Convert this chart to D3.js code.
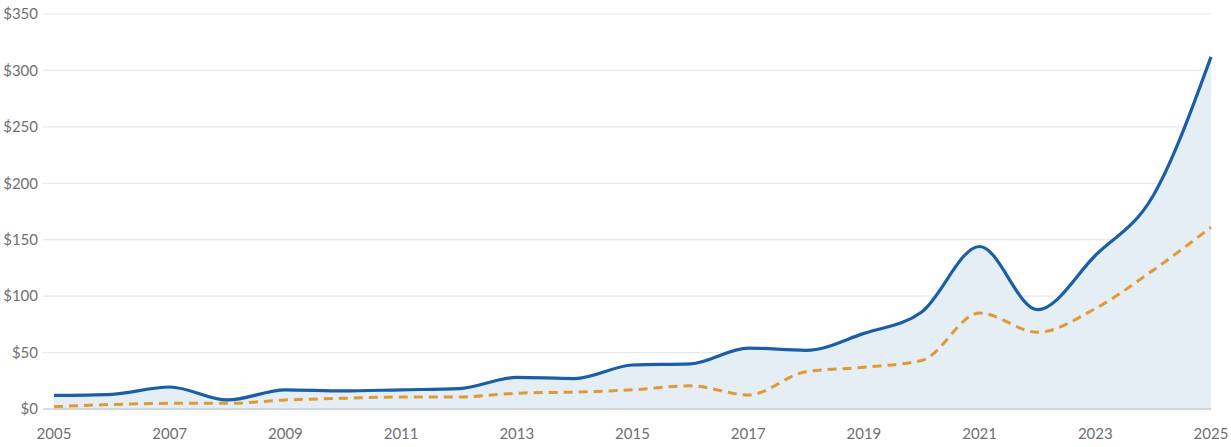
<!DOCTYPE html>
<html><head><meta charset="utf-8">
<script src="https://cdn.jsdelivr.net/npm/d3@7"></script>
<style>body{margin:0;background:#fff}svg{display:block}text{font-family:"Source Sans Pro",Lato,"Open Sans",sans-serif}</style>
</head><body><svg id="c" width="1231" height="447"></svg>
<script>
const years = [2005,2006,2007,2008,2009,2010,2011,2012,2013,2014,2015,2016,2017,2018,2019,2020,2021,2022,2023,2024,2025];
const seriesA = [12,13,19.5,8,17,16,17,18,28,27,39,40,54,52,67,86,144,88,136,189,312];
const seriesB = [2,4,5,5,8,9.5,10.6,10.6,14,15,17,20.5,12.5,33,37,43,85,68,89,123,161];
const yTicks = [0,50,100,150,200,250,300,350];
const xTicks = [2005,2007,2009,2011,2013,2015,2017,2019,2021,2023,2025];

const svg = d3.select("#c");
const x = d3.scaleLinear().domain([2005,2025]).range([54,1211]);
const y = d3.scaleLinear().domain([0,350]).range([409,14]);

svg.append("g").selectAll("line").data(yTicks).join("line")
  .attr("x1",43).attr("x2",1211).attr("y1",d=>y(d)).attr("y2",d=>y(d))
  .attr("stroke",d=>d===0?"#c9d0d8":"#e8e8e8").attr("stroke-width",d=>d===0?1.5:1.2);

svg.append("g").selectAll("text").data(yTicks).join("text")
  .attr("x",38).attr("y",d=>y(d)).attr("dy","0.35em").attr("text-anchor","end")
  .attr("fill","#707070").attr("font-size",15).text(d=>"$"+d);

svg.append("g").selectAll("text").data(xTicks).join("text")
  .attr("x",d=>x(d)).attr("y",434).attr("dy","0.35em").attr("text-anchor","middle")
  .attr("fill","#707070").attr("font-size",15).text(d=>d);

const curve = d3.curveMonotoneX;
const ptsA = years.map((t,i)=>[t,seriesA[i]]);
const ptsB = years.map((t,i)=>[t,seriesB[i]]);

svg.append("path").datum(ptsA)
  .attr("d", d3.area().x(d=>x(d[0])).y0(y(0)).y1(d=>y(d[1])).curve(curve))
  .attr("fill","#e5edf5");
svg.append("line").attr("x1",54).attr("x2",1211).attr("y1",y(0)).attr("y2",y(0))
  .attr("stroke","#c9d0d8").attr("stroke-width",1.5);

svg.append("path").datum(ptsB)
  .attr("d", d3.line().x(d=>x(d[0])).y(d=>y(d[1])).curve(curve))
  .attr("fill","none").attr("stroke","#e09a35").attr("stroke-width",3).attr("stroke-dasharray","9,6");

svg.append("path").datum(ptsA)
  .attr("d", d3.line().x(d=>x(d[0])).y(d=>y(d[1])).curve(curve))
  .attr("fill","none").attr("stroke","#1a5fa6").attr("stroke-width",3.2);
</script></body></html>
